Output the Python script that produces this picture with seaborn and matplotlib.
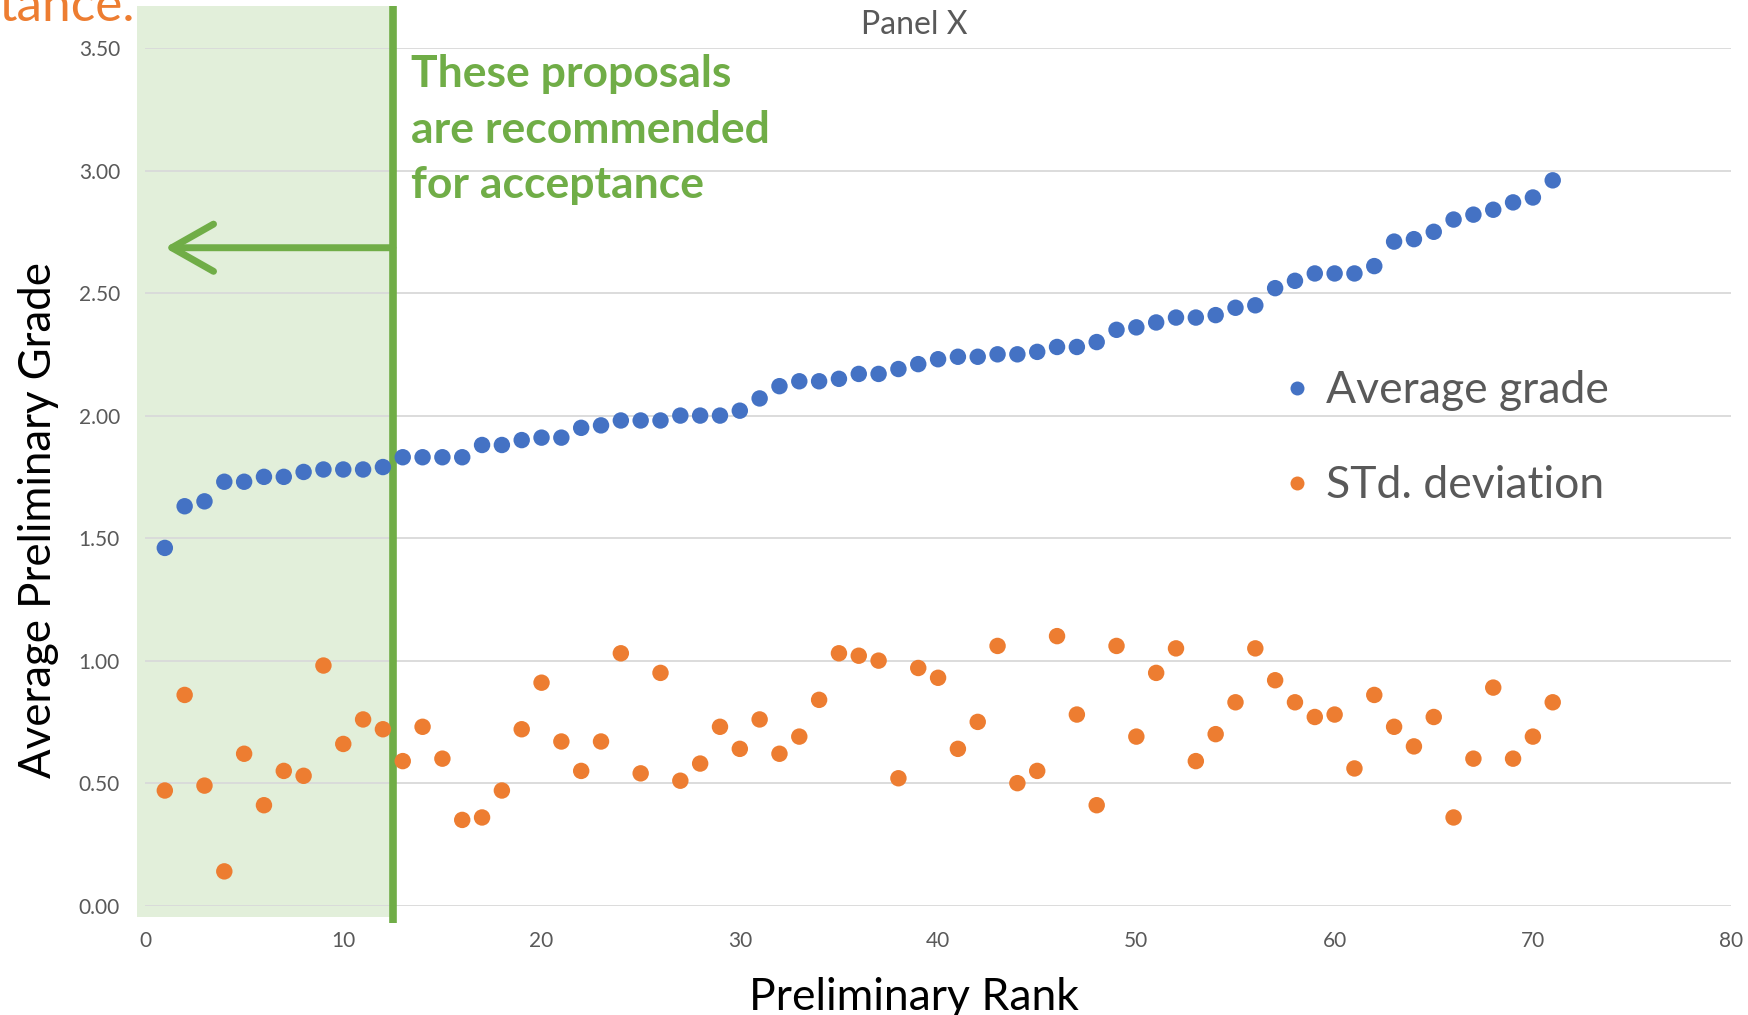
import numpy as np
import pandas as pd
import matplotlib
matplotlib.use('Agg')
import matplotlib.pyplot as plt
import seaborn as sns
from matplotlib.patches import Rectangle

sns.set_style('white')
plt.rcParams['font.family'] = ['Lato', 'DejaVu Sans']

# preliminary rank 1..71
rank = list(range(1, 72))
avg_grade = [1.46, 1.63, 1.65, 1.73, 1.73, 1.75, 1.75, 1.77, 1.78, 1.78,
             1.78, 1.79, 1.83, 1.83, 1.83, 1.83, 1.88, 1.88, 1.90, 1.91,
             1.91, 1.95, 1.96, 1.98, 1.98, 1.98, 2.00, 2.00, 2.00, 2.02,
             2.07, 2.12, 2.14, 2.14, 2.15, 2.17, 2.17, 2.19, 2.21, 2.23,
             2.24, 2.24, 2.25, 2.25, 2.26, 2.28, 2.28, 2.30, 2.35, 2.36,
             2.38, 2.40, 2.40, 2.41, 2.44, 2.45, 2.52, 2.55, 2.58, 2.58,
             2.58, 2.61, 2.71, 2.72, 2.75, 2.80, 2.82, 2.84, 2.87, 2.89,
             2.96]
std_dev = [0.47, 0.86, 0.49, 0.14, 0.62, 0.41, 0.55, 0.53, 0.98, 0.66,
           0.76, 0.72, 0.59, 0.73, 0.60, 0.35, 0.36, 0.47, 0.72, 0.91,
           0.67, 0.55, 0.67, 1.03, 0.54, 0.95, 0.51, 0.58, 0.73, 0.64,
           0.76, 0.62, 0.69, 0.84, 1.03, 1.02, 1.00, 0.52, 0.97, 0.93,
           0.64, 0.75, 1.06, 0.50, 0.55, 1.10, 0.78, 0.41, 1.06, 0.69,
           0.95, 1.05, 0.59, 0.70, 0.83, 1.05, 0.92, 0.83, 0.77, 0.78,
           0.56, 0.86, 0.73, 0.65, 0.77, 0.36, 0.60, 0.89, 0.60, 0.69,
           0.83]
series_names = ['Average grade', 'STd. deviation']
yticks = [0.0, 0.5, 1.0, 1.5, 2.0, 2.5, 3.0, 3.5]
xticks = [0, 10, 20, 30, 40, 50, 60, 70, 80]
cutoff = 12.5

BLUE = '#4472C4'
ORANGE = '#ED7D31'
GREEN = '#70AD47'
SHADE = '#E2EFDA'
GRAY = '#595959'

df = pd.DataFrame({'rank': rank, 'Average grade': avg_grade, 'STd. deviation': std_dev})
long = df.melt(id_vars='rank', var_name='series', value_name='value')

fig = plt.figure(figsize=(17.49, 10.15), dpi=100)
ax = fig.add_axes([0.0829, 0.1077, 0.9069, 0.845])

# recommended region
ax.add_patch(Rectangle((-0.4, -0.045), cutoff + 0.4, 3.715, facecolor=SHADE,
                       edgecolor='none', clip_on=False, zorder=0))
for y in yticks:
    ax.axhline(y, color='#D9D9D9', lw=1.3, zorder=1)
ax.plot([cutoff, cutoff], [-0.07, 3.67], color=GREEN, lw=5.5, clip_on=False,
        zorder=2, solid_capstyle='butt')

sns.scatterplot(data=long, x='rank', y='value', hue='series', hue_order=series_names,
                palette=[BLUE, ORANGE], s=140, edgecolor='none', ax=ax, zorder=3,
                clip_on=False)

ax.annotate('', xy=(1.0, 2.685), xytext=(cutoff, 2.685),
            arrowprops=dict(arrowstyle='->, head_length=3.0, head_width=1.7',
                            color=GREEN, lw=5, mutation_scale=10,
                            capstyle='round', joinstyle='round',
                            shrinkA=0, shrinkB=0))
ax.text(13.4, 3.475, 'These proposals\nare recommended\nfor acceptance',
        color=GREEN, fontsize=32, fontweight='bold', va='top', ha='left',
        linespacing=1.47)

ax.set_xlim(0, 80)
ax.set_ylim(0, 3.5)
ax.set_xticks(xticks)
ax.set_yticks(yticks)
ax.set_yticklabels([f'{v:.2f}' for v in yticks])
ax.tick_params(axis='both', colors=GRAY, labelsize=15, length=0, pad=18)
for sp in ax.spines.values():
    sp.set_visible(False)
ax.set_xlabel('Preliminary Rank', fontsize=32, color='black')
ax.set_ylabel('Average Preliminary Grade', fontsize=31.5, color='black')
ax.xaxis.set_label_coords(0.485, -0.083)
ax.yaxis.set_label_coords(-0.0545, 0.45)

leg = ax.legend(loc='center left', bbox_to_anchor=(0.704, 0.545), frameon=False,
                fontsize=32, labelcolor=GRAY, handlelength=0.6, handletextpad=0.35,
                labelspacing=1.22, borderpad=0, markerscale=0.85)

fig.text(0.523, 0.975, 'Panel X', color=GRAY, fontsize=23, ha='center', va='center')
fig.text(0.0775, 0.979, 'tance.', color=ORANGE, fontsize=37, ha='right', va='baseline')

fig.savefig('out.png', dpi=100)
